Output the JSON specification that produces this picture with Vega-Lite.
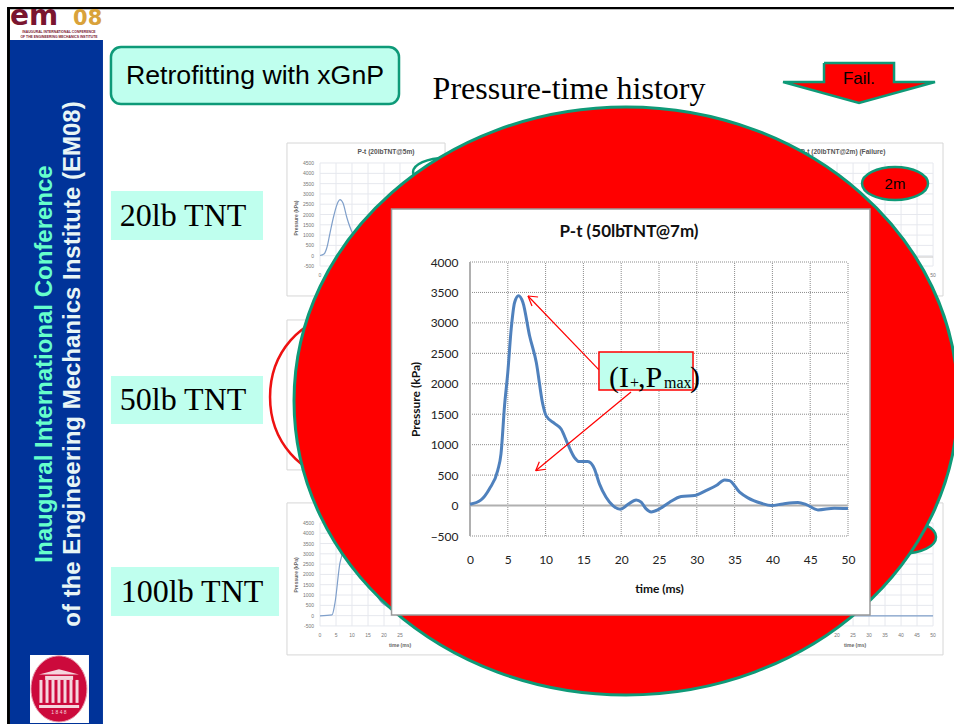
{
"$schema":"https://vega.github.io/schema/vega-lite/v6.json",
"width":378,"height":274,
"autosize":{"type":"none"},
"padding":{"left":470,"top":262,"right":106,"bottom":188},
"background":"white",
"config":{"view":{"stroke":null}},
"datasets":{
"frame":[{"t":-61.24,"t2":64.02,"p":8187,"p2":8149},{"t":-61.24,"t2":-60.85,"p":8171,"p2":-3586}],
"sidebar":[{"t":-60.85,"t2":-48.55,"p":7645,"p2":-3586}],
"logoWhite":[{"t":-58.2,"t2":-50.4,"p":-2453,"p2":-3570}],
"logoSeal":[{"t":-54.37,"p":-3011}],
"logoRoof":[{"t":-54.37,"p":-2732}],
"logoBars":[{"t":-56.2,"t2":-52.5,"p":-2798,"p2":-2864},{"t":-57.0,"t2":-51.7,"p":-3274,"p2":-3323}],
"logoCols":[{"t":-56.75,"p":-2864,"p2":-3241},{"t":-55.95,"p":-2864,"p2":-3241},{"t":-55.16,"p":-2864,"p2":-3241},{"t":-54.37,"p":-2864,"p2":-3241},{"t":-53.57,"p":-2864,"p2":-3241},{"t":-52.78,"p":-2864,"p2":-3241},{"t":-51.98,"p":-2864,"p2":-3241}],
"logoYear":[{"t":-54.37,"p":-3390,"label":"1 8 4 8"}],
"em":[{"t":-60.85,"p":7892,"label":"em"}],
"o8":[{"t":-52.5,"p":7892,"label":"08"}],
"emSmall":[{"t":-54.37,"p":7780,"label":"INAUGURAL INTERNATIONAL CONFERENCE"},{"t":-54.37,"p":7700,"label":"OF THE ENGINEERING MECHANICS INSTITUTE"}],
"side1":[{"t":-56.22,"p":2325,"label":"Inaugural International Conference"}],
"side2":[{"t":-52.51,"p":2325,"label":"of the Engineering Mechanics Institute (EM08)"}],
"retroBox":[{"t":-47.49,"t2":-9.39,"p":7530,"p2":6594}],
"retroText":[{"t":-28.44,"p":7054,"label":"Retrofitting with xGnP"}],
"heading":[{"t":13.1,"p":6841,"label":"Pressure-time history"}],
"thumbs":[
{"t":-24.21,"t2":-3.3,"p":5954,"p2":3442},
{"t":-24.21,"t2":-3.3,"p":3048,"p2":585},
{"t":-24.21,"t2":20,"p":43,"p2":-2453},
{"t":41.4,"t2":62.57,"p":5954,"p2":3442},
{"t":20,"t2":62.57,"p":43,"p2":-2453}],
"thumbH":[
{"t":-19.84,"t2":61.25,"p":5626},{"t":-19.84,"t2":61.25,"p":5456},{"t":-19.84,"t2":61.25,"p":5287},{"t":-19.84,"t2":61.25,"p":5118},{"t":-19.84,"t2":61.25,"p":4949},{"t":-19.84,"t2":61.25,"p":4780},{"t":-19.84,"t2":61.25,"p":4611},{"t":-19.84,"t2":61.25,"p":4442},{"t":-19.84,"t2":61.25,"p":4273},{"t":-19.84,"t2":61.25,"p":4103},{"t":-19.84,"t2":61.25,"p":3934},
{"t":-19.84,"t2":61.25,"p":-285},{"t":-19.84,"t2":61.25,"p":-455},{"t":-19.84,"t2":61.25,"p":-624},{"t":-19.84,"t2":61.25,"p":-793},{"t":-19.84,"t2":61.25,"p":-962},{"t":-19.84,"t2":61.25,"p":-1131},{"t":-19.84,"t2":61.25,"p":-1300},{"t":-19.84,"t2":61.25,"p":-1469},{"t":-19.84,"t2":61.25,"p":-1639},{"t":-19.84,"t2":61.25,"p":-1808},{"t":-19.84,"t2":61.25,"p":-1977}],
"thumbV":[
{"t":-19.84,"p":5626,"p2":3934},{"t":-17.72,"p":5626,"p2":3934},{"t":-15.61,"p":5626,"p2":3934},{"t":-13.49,"p":5626,"p2":3934},{"t":-11.37,"p":5626,"p2":3934},{"t":-9.26,"p":5626,"p2":3934},
{"t":61.25,"p":5626,"p2":3934},{"t":59.13,"p":5626,"p2":3934},{"t":57.02,"p":5626,"p2":3934},{"t":54.9,"p":5626,"p2":3934},{"t":52.78,"p":5626,"p2":3934},{"t":50.67,"p":5626,"p2":3934},{"t":48.55,"p":5626,"p2":3934},{"t":46.43,"p":5626,"p2":3934},
{"t":-19.84,"p":-285,"p2":-1977},{"t":-17.72,"p":-285,"p2":-1977},{"t":-15.61,"p":-285,"p2":-1977},{"t":-13.49,"p":-285,"p2":-1977},{"t":-11.37,"p":-285,"p2":-1977},{"t":-9.26,"p":-285,"p2":-1977},
{"t":61.25,"p":-285,"p2":-1977},{"t":59.13,"p":-285,"p2":-1977},{"t":57.02,"p":-285,"p2":-1977},{"t":54.9,"p":-285,"p2":-1977},{"t":52.78,"p":-285,"p2":-1977},{"t":50.67,"p":-285,"p2":-1977},{"t":48.55,"p":-285,"p2":-1977},{"t":46.43,"p":-285,"p2":-1977}],
"thumbLines":[
{"s":"a","t":-19.84,"p":4107},{"s":"a","t":-19.31,"p":4131},{"s":"a","t":-18.91,"p":4246},{"s":"a","t":-18.52,"p":4476},{"s":"a","t":-17.99,"p":4772},{"s":"a","t":-17.46,"p":4985},{"s":"a","t":-17.2,"p":5026},{"s":"a","t":-16.8,"p":4969},{"s":"a","t":-16.27,"p":4722},{"s":"a","t":-15.61,"p":4493},{"s":"a","t":-14.81,"p":4361},
{"s":"b","t":-19.84,"p":-1813},{"s":"b","t":-18.25,"p":-1796},{"s":"b","t":-17.86,"p":-1599},{"s":"b","t":-17.2,"p":-942},{"s":"b","t":-16.93,"p":-811},{"s":"b","t":-15.87,"p":-319},
{"s":"c","t":-12.3,"p":-1484},{"s":"c","t":-11.64,"p":-1599},{"s":"c","t":-10.84,"p":-1665},{"s":"c","t":-9.92,"p":-1714},
{"s":"d","t":48.68,"p":-1813},{"s":"d","t":61.25,"p":-1813}],
"thumbFlat":[{"t":54.9,"p":4082},{"t":61.25,"p":4082}],
"thumbYLabels":[
{"t":-20.63,"p":5626,"label":"4500"},{"t":-20.63,"p":5456,"label":"4000"},{"t":-20.63,"p":5287,"label":"3500"},{"t":-20.63,"p":5118,"label":"3000"},{"t":-20.63,"p":4949,"label":"2500"},{"t":-20.63,"p":4780,"label":"2000"},{"t":-20.63,"p":4611,"label":"1500"},{"t":-20.63,"p":4442,"label":"1000"},{"t":-20.63,"p":4273,"label":"500"},{"t":-20.63,"p":4103,"label":"0"},{"t":-20.63,"p":3934,"label":"-500"},
{"t":-20.63,"p":-285,"label":"4500"},{"t":-20.63,"p":-455,"label":"4000"},{"t":-20.63,"p":-624,"label":"3500"},{"t":-20.63,"p":-793,"label":"3000"},{"t":-20.63,"p":-962,"label":"2500"},{"t":-20.63,"p":-1131,"label":"2000"},{"t":-20.63,"p":-1300,"label":"1500"},{"t":-20.63,"p":-1469,"label":"1000"},{"t":-20.63,"p":-1639,"label":"500"},{"t":-20.63,"p":-1808,"label":"0"},{"t":-20.63,"p":-1977,"label":"-500"}],
"thumbXLabels":[
{"t":-19.84,"p":3786,"label":"0"},{"t":61.25,"p":3786,"label":"50"},
{"t":-19.84,"p":-2125,"label":"0"},{"t":-17.72,"p":-2125,"label":"5"},{"t":-15.61,"p":-2125,"label":"10"},{"t":-13.49,"p":-2125,"label":"15"},{"t":-11.37,"p":-2125,"label":"20"},{"t":-9.26,"p":-2125,"label":"25"},
{"t":48.55,"p":-2125,"label":"20"},{"t":50.67,"p":-2125,"label":"25"},{"t":52.78,"p":-2125,"label":"30"},{"t":54.9,"p":-2125,"label":"35"},{"t":57.02,"p":-2125,"label":"40"},{"t":59.13,"p":-2125,"label":"45"},{"t":61.25,"p":-2125,"label":"50"}],
"thumbTime":[{"t":-9.26,"p":-2289,"label":"time (ms)"},{"t":50.93,"p":-2289,"label":"time (ms)"}],
"thumbPress":[{"t":-23.01,"p":4722,"label":"Pressure (kPa)"},{"t":-23.01,"p":-1139,"label":"Pressure (kPa)"}],
"thumbTitles":[{"t":-11.11,"p":5806,"label":"P-t (20lbTNT@5m)"},{"t":49.34,"p":5806,"label":"P-t (20lbTNT@2m) (Failure)"}],
"chargeBoxes":[{"t":-47.49,"t2":-27.38,"p":5166,"p2":4361},{"t":-47.49,"t2":-27.38,"p":2128,"p2":1340},{"t":-47.49,"t2":-25.26,"p":-1008,"p2":-1813}],
"chargeText":[{"t":-37.96,"p":4763,"label":"20lb TNT"},{"t":-37.96,"p":1734,"label":"50lb TNT"},{"t":-36.77,"p":-1419,"label":"100lb TNT"}],
"redRing":[{"t":-17.19,"p":1783}],
"greenRing":[{"t":-3.3,"p":5478}],
"redBubbles":[{"t":56.22,"p":5289},{"t":57.28,"p":-516}],
"bubbleText":[{"t":56.22,"p":5289,"label":"2m"}],
"failArrow":[{"i":1,"t":46.83,"p":7268},{"i":2,"t":56.09,"p":7268},{"i":3,"t":56.09,"p":6956},{"i":4,"t":61.51,"p":6956},{"i":5,"t":51.46,"p":6611},{"i":6,"t":41.41,"p":6956},{"i":7,"t":46.83,"p":6956},{"i":8,"t":46.83,"p":7268}],
"failText":[{"t":51.46,"p":7005,"label":"Fail."}],
"bigEllipse":[{"t":20.64,"p":1718}],
"panel":[{"t":-10.38,"t2":52.91,"p":4870,"p2":-1796}],
"chartTitle":[{"t":21.03,"p":4493,"label":"P-t (50lbTNT@7m)"}],
"gridV":[{"t":5,"p":-500,"p2":4000},{"t":10,"p":-500,"p2":4000},{"t":15,"p":-500,"p2":4000},{"t":20,"p":-500,"p2":4000},{"t":25,"p":-500,"p2":4000},{"t":30,"p":-500,"p2":4000},{"t":35,"p":-500,"p2":4000},{"t":40,"p":-500,"p2":4000},{"t":45,"p":-500,"p2":4000},{"t":50,"p":-500,"p2":4000}],
"gridH":[{"t":0,"t2":50,"p":-500},{"t":0,"t2":50,"p":500},{"t":0,"t2":50,"p":1000},{"t":0,"t2":50,"p":1500},{"t":0,"t2":50,"p":2000},{"t":0,"t2":50,"p":2500},{"t":0,"t2":50,"p":3000},{"t":0,"t2":50,"p":3500},{"t":0,"t2":50,"p":4000}],
"baseV":[{"t":0,"p":-500,"p2":4000}],
"baseH":[{"t":0,"t2":50,"p":0}],
"pressure":[
{"t":0,"p":20},{"t":1.46,"p":93},{"t":2.56,"p":273},{"t":3.66,"p":574},{"t":4.1,"p":848},{"t":4.57,"p":1640},{"t":5.0,"p":2187},{"t":5.45,"p":2900},{"t":5.9,"p":3335},{"t":6.42,"p":3445},{"t":7.0,"p":3335},{"t":7.88,"p":2789},{"t":8.77,"p":2351},{"t":9.62,"p":1668},{"t":10.06,"p":1477},{"t":11.17,"p":1351},{"t":12.05,"p":1258},{"t":12.93,"p":1012},{"t":13.8,"p":793},{"t":14.47,"p":722},{"t":15.58,"p":722},{"t":16.46,"p":602},{"t":17.12,"p":356},{"t":18,"p":137},{"t":18.9,"p":0},{"t":19.9,"p":-60},{"t":20.87,"p":16},{"t":21.98,"p":93},{"t":22.64,"p":55},{"t":23.3,"p":-55},{"t":23.96,"p":-104},{"t":25.07,"p":-55},{"t":26.4,"p":55},{"t":27.93,"p":148},{"t":29.7,"p":164},{"t":31.2,"p":246},{"t":32.57,"p":328},{"t":33.67,"p":421},{"t":34.33,"p":410},{"t":35.66,"p":219},{"t":36.76,"p":126},{"t":38.53,"p":38},{"t":39.85,"p":0},{"t":41.4,"p":27},{"t":43.38,"p":49},{"t":44.48,"p":16},{"t":46.03,"p":-71},{"t":48.2,"p":-44},{"t":50,"p":-49}],
"arrows":[
{"t":17.06,"t2":7.67,"p":2227,"p2":3442},{"t":9.0,"t2":7.67,"p":3425,"p2":3442},{"t":8.2,"t2":7.67,"p":3277,"p2":3442},
{"t":21.3,"t2":8.69,"p":1865,"p2":573},{"t":10.06,"t2":8.69,"p":596,"p2":573},{"t":9.17,"t2":8.69,"p":721,"p2":573}],
"callout":[{"t":17.06,"t2":29.5,"p":2522,"p2":1898}],
"calloutBig":[{"t":18.39,"p":1947,"label":"(I"},{"t":22.22,"p":1947,"label":",P"},{"t":29.1,"p":1947,"label":")"}],
"calloutSmall":[{"t":21.17,"p":1925,"label":"+"},{"t":25.66,"p":1925,"label":"max"}]
},
"encoding":{
"x":{"field":"t","type":"quantitative","scale":{"domain":[0,50],"nice":false,"zero":false},
"axis":{"values":[0,5,10,15,20,25,30,35,40,45,50],"grid":false,"domain":false,"ticks":false,"zindex":1,"labelPadding":18,"labelFont":"Lato","labelFontSize":12,"labelColor":"#222222","labelFlush":false,"labelOverlap":false,"title":"time (ms)","titleFont":"Lato","titleFontSize":12,"titleFontWeight":"bold","titleColor":"#111111","titlePadding":18}},
"y":{"field":"p","type":"quantitative","scale":{"domain":[-500,4000],"nice":false,"zero":false},
"axis":{"values":[-500,0,500,1000,1500,2000,2500,3000,3500,4000],"format":"d","grid":false,"domain":false,"ticks":false,"zindex":1,"labelPadding":12,"labelFont":"Lato","labelFontSize":12,"labelColor":"#222222","labelOverlap":false,"title":"Pressure (kPa)","titleFont":"Lato","titleFontSize":12,"titleFontWeight":"bold","titleColor":"#111111","titlePadding":8}}
},
"layer":[
{"data":{"name":"frame"},"mark":{"type":"rect","fill":"#000000"},"encoding":{"x2":{"field":"t2"},"y2":{"field":"p2"}}},
{"data":{"name":"sidebar"},"mark":{"type":"rect","fill":"#003399"},"encoding":{"x2":{"field":"t2"},"y2":{"field":"p2"}}},
{"data":{"name":"em"},"mark":{"type":"text","font":"DejaVu Sans","fontWeight":"bold","fontSize":28,"align":"left","baseline":"alphabetic","fill":"#7a1530"},"encoding":{"text":{"field":"label"}}},
{"data":{"name":"o8"},"mark":{"type":"text","font":"DejaVu Sans","fontWeight":"bold","fontSize":21,"align":"left","baseline":"alphabetic","fill":"#d9a23a"},"encoding":{"text":{"field":"label"}}},
{"data":{"name":"emSmall"},"mark":{"type":"text","font":"Liberation Sans","fontWeight":"bold","fontSize":3.4,"align":"center","baseline":"middle","fill":"#7a1530"},"encoding":{"text":{"field":"label"}}},
{"data":{"name":"side1"},"mark":{"type":"text","font":"Liberation Sans","fontWeight":"bold","fontSize":24,"angle":270,"align":"center","baseline":"middle","fill":"#66FFCC"},"encoding":{"text":{"field":"label"}}},
{"data":{"name":"side2"},"mark":{"type":"text","font":"Liberation Sans","fontWeight":"bold","fontSize":24,"angle":270,"align":"center","baseline":"middle","fill":"#E8F5F5"},"encoding":{"text":{"field":"label"}}},
{"data":{"name":"logoWhite"},"mark":{"type":"rect","fill":"#ffffff"},"encoding":{"x2":{"field":"t2"},"y2":{"field":"p2"}}},
{"data":{"name":"logoSeal"},"mark":{"type":"point","filled":true,"fill":"#cc0a3c","stroke":"#e8a0b0","strokeWidth":1,"opacity":1,"size":3136,"shape":"M-1,0 A1,1.18 0 1 1 1,0 A1,1.18 0 1 1 -1,0 Z"}},
{"data":{"name":"logoRoof"},"mark":{"type":"point","filled":true,"fill":"#f5d5dd","opacity":1,"size":1600,"shape":"M-1,0.13 L0,-0.13 L1,0.13 Z"}},
{"data":{"name":"logoBars"},"mark":{"type":"rect","fill":"#f5d5dd"},"encoding":{"x2":{"field":"t2"},"y2":{"field":"p2"}}},
{"data":{"name":"logoCols"},"mark":{"type":"rule","stroke":"#f5d5dd","strokeWidth":3},"encoding":{"y2":{"field":"p2"}}},
{"data":{"name":"logoYear"},"mark":{"type":"text","font":"Liberation Sans","fontSize":5,"align":"center","baseline":"middle","fill":"#f5d5dd"},"encoding":{"text":{"field":"label"}}},
{"data":{"name":"retroBox"},"mark":{"type":"rect","fill":"#BFFFEE","stroke":"#0E9A78","strokeWidth":2.5,"cornerRadius":10},"encoding":{"x2":{"field":"t2"},"y2":{"field":"p2"}}},
{"data":{"name":"retroText"},"mark":{"type":"text","font":"Liberation Sans","fontSize":26.7,"align":"center","baseline":"middle","fill":"#000000"},"encoding":{"text":{"field":"label"}}},
{"data":{"name":"heading"},"mark":{"type":"text","font":"Liberation Serif","fontSize":32,"align":"center","baseline":"middle","fill":"#000000"},"encoding":{"text":{"field":"label"}}},
{"data":{"name":"thumbs"},"mark":{"type":"rect","fill":"#ffffff","stroke":"#d6d6d6","strokeWidth":1},"encoding":{"x2":{"field":"t2"},"y2":{"field":"p2"}}},
{"data":{"name":"thumbH"},"mark":{"type":"rule","stroke":"#e6e8ee","strokeWidth":1},"encoding":{"x2":{"field":"t2"}}},
{"data":{"name":"thumbV"},"mark":{"type":"rule","stroke":"#e6e8ee","strokeWidth":1},"encoding":{"y2":{"field":"p2"}}},
{"data":{"name":"thumbLines"},"mark":{"type":"line","stroke":"#7f9fca","strokeWidth":1.2,"interpolate":"monotone"},"encoding":{"detail":{"field":"s"}}},
{"data":{"name":"thumbFlat"},"mark":{"type":"line","stroke":"#c8c8c8","strokeWidth":1}},
{"data":{"name":"thumbYLabels"},"mark":{"type":"text","font":"Liberation Sans","fontSize":5,"align":"right","baseline":"middle","fill":"#777777"},"encoding":{"text":{"field":"label"}}},
{"data":{"name":"thumbXLabels"},"mark":{"type":"text","font":"Liberation Sans","fontSize":5,"align":"center","baseline":"middle","fill":"#777777"},"encoding":{"text":{"field":"label"}}},
{"data":{"name":"thumbTime"},"mark":{"type":"text","font":"Liberation Sans","fontWeight":"bold","fontSize":5,"align":"center","baseline":"middle","fill":"#666666"},"encoding":{"text":{"field":"label"}}},
{"data":{"name":"thumbPress"},"mark":{"type":"text","font":"Liberation Sans","fontWeight":"bold","fontSize":5,"angle":270,"align":"center","baseline":"middle","fill":"#666666"},"encoding":{"text":{"field":"label"}}},
{"data":{"name":"thumbTitles"},"mark":{"type":"text","font":"Liberation Sans","fontWeight":"bold","fontSize":6.6,"align":"center","baseline":"middle","fill":"#555555"},"encoding":{"text":{"field":"label"}}},
{"data":{"name":"chargeBoxes"},"mark":{"type":"rect","fill":"#BFFFEE"},"encoding":{"x2":{"field":"t2"},"y2":{"field":"p2"}}},
{"data":{"name":"chargeText"},"mark":{"type":"text","font":"Liberation Serif","fontSize":32,"align":"center","baseline":"middle","fill":"#000000"},"encoding":{"text":{"field":"label"}}},
{"data":{"name":"redRing"},"mark":{"type":"point","filled":false,"fill":null,"stroke":"#ee1111","strokeWidth":2.5,"opacity":1,"size":19600,"shape":"M-1,0 A1,1.143 0 1 1 1,0 A1,1.143 0 1 1 -1,0 Z"}},
{"data":{"name":"greenRing"},"mark":{"type":"point","filled":true,"fill":"#ffffff","stroke":"#0E9A78","strokeWidth":2.5,"opacity":1,"size":4096,"shape":"M-1,0 A1,0.44 0 1 1 1,0 A1,0.44 0 1 1 -1,0 Z"}},
{"data":{"name":"redBubbles"},"mark":{"type":"point","filled":true,"fill":"#ff0000","stroke":"#0E9A78","strokeWidth":2.5,"opacity":1,"size":4356,"shape":"M-1,0 A1,0.5 0 1 1 1,0 A1,0.5 0 1 1 -1,0 Z"}},
{"data":{"name":"bubbleText"},"mark":{"type":"text","font":"Liberation Sans","fontSize":15,"align":"center","baseline":"middle","fill":"#000000"},"encoding":{"text":{"field":"label"}}},
{"data":{"name":"failArrow"},"mark":{"type":"line","fill":"#ff0000","stroke":"#0E9A78","strokeWidth":2.5},"encoding":{"order":{"field":"i"}}},
{"data":{"name":"failText"},"mark":{"type":"text","font":"Liberation Sans","fontSize":17,"align":"center","baseline":"middle","fill":"#000000"},"encoding":{"text":{"field":"label"}}},
{"data":{"name":"bigEllipse"},"mark":{"type":"point","filled":true,"fill":"#ff0000","stroke":"#0E9A78","strokeWidth":3,"opacity":1,"size":440896,"shape":"M-1,0 A1,0.8855 0 1 1 1,0 A1,0.8855 0 1 1 -1,0 Z"}},
{"data":{"name":"panel"},"mark":{"type":"rect","fill":"#ffffff","stroke":"#9a9a9a","strokeWidth":1.5},"encoding":{"x2":{"field":"t2"},"y2":{"field":"p2"}}},
{"data":{"name":"chartTitle"},"mark":{"type":"text","font":"Lato","fontWeight":"bold","fontSize":17,"align":"center","baseline":"middle","fill":"#111111"},"encoding":{"text":{"field":"label"}}},
{"data":{"name":"gridV"},"mark":{"type":"rule","stroke":"#8c8c8c","strokeWidth":1,"strokeDash":[1,1]},"encoding":{"y2":{"field":"p2"}}},
{"data":{"name":"gridH"},"mark":{"type":"rule","stroke":"#8c8c8c","strokeWidth":1,"strokeDash":[1,1]},"encoding":{"x2":{"field":"t2"}}},
{"data":{"name":"baseV"},"mark":{"type":"rule","stroke":"#b0b0b0","strokeWidth":2},"encoding":{"y2":{"field":"p2"}}},
{"data":{"name":"baseH"},"mark":{"type":"rule","stroke":"#b0b0b0","strokeWidth":2},"encoding":{"x2":{"field":"t2"}}},
{"data":{"name":"pressure"},"mark":{"type":"line","stroke":"#4F81BD","strokeWidth":3,"interpolate":"monotone"}},
{"data":{"name":"arrows"},"mark":{"type":"rule","stroke":"#ff0000","strokeWidth":1.2},"encoding":{"x2":{"field":"t2"},"y2":{"field":"p2"}}},
{"data":{"name":"callout"},"mark":{"type":"rect","fill":"#BFFFEE","stroke":"#ff0000","strokeWidth":1.5},"encoding":{"x2":{"field":"t2"},"y2":{"field":"p2"}}},
{"data":{"name":"calloutBig"},"mark":{"type":"text","font":"Liberation Serif","fontSize":30,"align":"left","baseline":"alphabetic","fill":"#000000"},"encoding":{"text":{"field":"label"}}},
{"data":{"name":"calloutSmall"},"mark":{"type":"text","font":"Liberation Serif","fontSize":16,"align":"left","baseline":"alphabetic","fill":"#000000"},"encoding":{"text":{"field":"label"}}}
]
}
